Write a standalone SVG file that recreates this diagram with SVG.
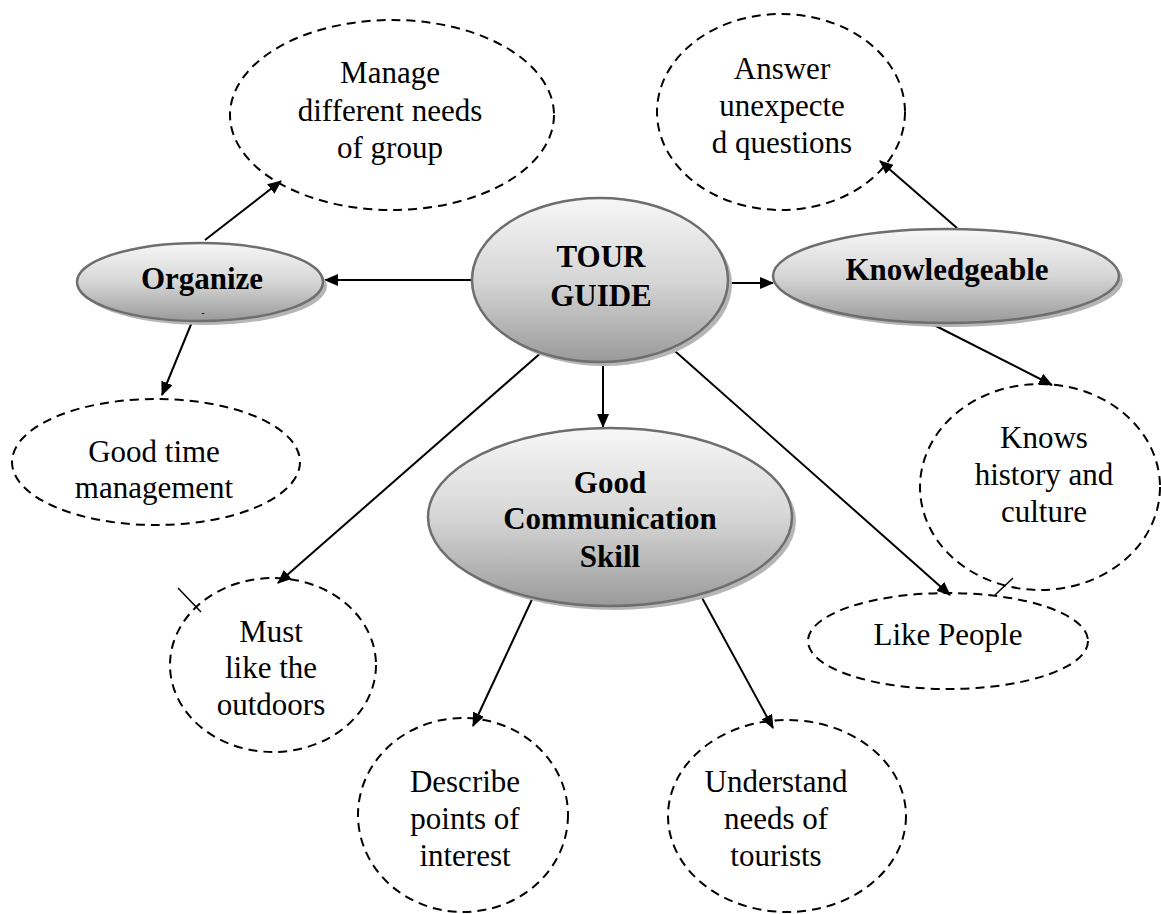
<svg xmlns="http://www.w3.org/2000/svg" width="1161" height="914" viewBox="0 0 1161 914">
<style>
.main{stroke:#6e6e6e;stroke-width:2.5;fill:url(#g)}
.shadow{fill:#b5b5b5}
.dash{fill:none;stroke:#000;stroke-width:2;stroke-dasharray:9 6}
.b{font-family:"Liberation Serif","Times New Roman",serif;font-weight:bold;font-size:31px;text-anchor:middle;fill:#000}
.t{font-family:"Liberation Serif","Times New Roman",serif;font-size:31px;text-anchor:middle;fill:#000}
.c{stroke:#000;stroke-width:2;fill:none;marker-end:url(#a)}
.tick{stroke:#000;stroke-width:1.5}
</style>
<defs>
<linearGradient id="g" x1="0" y1="0" x2="0" y2="1">
<stop offset="0" stop-color="#f7f7f7"/>
<stop offset="0.5" stop-color="#d6d6d6"/>
<stop offset="1" stop-color="#9a9a9a"/>
</linearGradient>
<marker id="a" viewBox="0 0 14 12" refX="13" refY="6" markerWidth="14" markerHeight="12" markerUnits="userSpaceOnUse" orient="auto">
<path d="M0,0 L14,6 L0,12 Z" fill="#000"/>
</marker>
</defs>
<rect width="1161" height="914" fill="#fff"/>
<g id="connectors">
<line class="c" x1="472" y1="280" x2="325" y2="280"/>
<line class="c" x1="728" y1="283" x2="773" y2="283"/>
<line class="c" x1="603" y1="362" x2="603" y2="427"/>
<line class="c" x1="551" y1="344" x2="278" y2="583"/>
<line class="c" x1="667" y1="344" x2="950" y2="595"/>
<line class="c" x1="205" y1="240" x2="281" y2="181"/>
<line class="c" x1="192" y1="322" x2="162" y2="395"/>
<line class="c" x1="957" y1="228" x2="880" y2="161"/>
<line class="c" x1="930" y1="323" x2="1052" y2="385"/>
<line class="c" x1="549" y1="563" x2="473" y2="726"/>
<line class="c" x1="683" y1="563" x2="773" y2="728"/>
<line class="tick" x1="178" y1="588" x2="201" y2="612"/>
<line class="tick" x1="1013" y1="578" x2="995" y2="595"/>
</g>
<g id="tour-guide">
<ellipse class="shadow" cx="604" cy="284" rx="128" ry="82"/>
<ellipse class="main" cx="600" cy="280" rx="128" ry="82"/>
<text class="b" x="601" y="267">TOUR</text>
<text class="b" x="601" y="306">GUIDE</text>
</g>
<g id="organize">
<ellipse class="shadow" cx="204" cy="286" rx="123" ry="39"/>
<ellipse class="main" cx="200" cy="282" rx="123" ry="39"/>
<text class="b" x="202" y="289">Organize</text>
<text class="t" x="203" y="316" style="font-size:10px">-</text>
</g>
<g id="knowledgeable">
<ellipse class="shadow" cx="950" cy="280" rx="173" ry="47"/>
<ellipse class="main" cx="946" cy="276" rx="173" ry="47"/>
<text class="b" x="947" y="280">Knowledgeable</text>
</g>
<g id="good-communication">
<ellipse class="shadow" cx="614" cy="521" rx="182" ry="89"/>
<ellipse class="main" cx="610" cy="517" rx="182" ry="89"/>
<text class="b" x="610" y="493">Good</text>
<text class="b" x="610" y="529">Communication</text>
<text class="b" x="610" y="567">Skill</text>
</g>
<g id="manage">
<ellipse class="dash" cx="392" cy="115" rx="162" ry="95"/>
<text class="t" x="390" y="83">Manage</text>
<text class="t" x="390" y="121">different needs</text>
<text class="t" x="390" y="158">of group</text>
</g>
<g id="answer">
<ellipse class="dash" cx="781" cy="112" rx="124" ry="98"/>
<text class="t" x="782" y="79">Answer</text>
<text class="t" x="782" y="116">unexpecte</text>
<text class="t" x="782" y="153">d questions</text>
</g>
<g id="good-time">
<ellipse class="dash" cx="156" cy="462" rx="144" ry="63"/>
<text class="t" x="154" y="462">Good time</text>
<text class="t" x="154" y="498">management</text>
</g>
<g id="knows">
<ellipse class="dash" cx="1040" cy="487" rx="120" ry="103"/>
<text class="t" x="1044" y="448">Knows</text>
<text class="t" x="1044" y="485">history and</text>
<text class="t" x="1044" y="522">culture</text>
</g>
<g id="must-like">
<ellipse class="dash" cx="273" cy="665" rx="103" ry="87"/>
<text class="t" x="271" y="642">Must</text>
<text class="t" x="271" y="678">like the</text>
<text class="t" x="271" y="715">outdoors</text>
</g>
<g id="like-people">
<ellipse class="dash" cx="948" cy="641" rx="140" ry="48"/>
<text class="t" x="948" y="645">Like People</text>
</g>
<g id="describe">
<ellipse class="dash" cx="463" cy="815" rx="105" ry="97"/>
<text class="t" x="465" y="792">Describe</text>
<text class="t" x="465" y="829">points of</text>
<text class="t" x="465" y="866">interest</text>
</g>
<g id="understand">
<ellipse class="dash" cx="787" cy="816" rx="119" ry="96"/>
<text class="t" x="776" y="792">Understand</text>
<text class="t" x="776" y="829">needs of</text>
<text class="t" x="776" y="866">tourists</text>
</g>
</svg>
